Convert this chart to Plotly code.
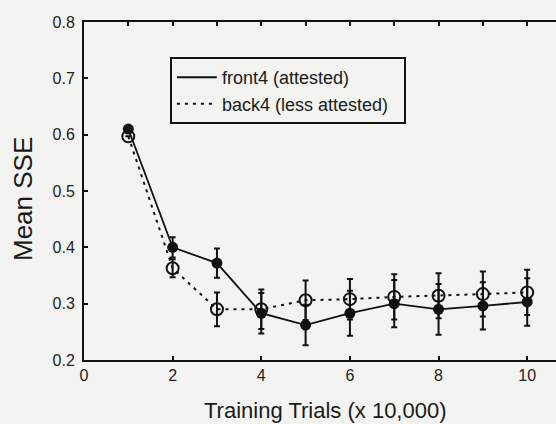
import plotly.graph_objects as go

trials = [1, 2, 3, 4, 5, 6, 7, 8, 9, 10]
front4 = [0.610, 0.400, 0.372, 0.283, 0.262, 0.283, 0.300, 0.290, 0.296, 0.303]
front4_err = [0.0, 0.018, 0.026, 0.036, 0.036, 0.040, 0.042, 0.045, 0.042, 0.042]
back4 = [0.597, 0.363, 0.290, 0.290, 0.306, 0.308, 0.312, 0.314, 0.317, 0.320]
back4_err = [0.0, 0.016, 0.030, 0.035, 0.035, 0.036, 0.040, 0.040, 0.040, 0.040]
legend_names = ["front4 (attested)", "back4 (less attested)"]
x_ticks = [0, 2, 4, 6, 8, 10]
y_ticks = [0.2, 0.3, 0.4, 0.5, 0.6, 0.7, 0.8]

bg = "#f3f3f1"
ink = "#111111"
font = "Liberation Sans, Arial, sans-serif"

fig = go.Figure()

# data traces
fig.add_trace(go.Scatter(
    x=trials, y=back4, mode="lines+markers", showlegend=False,
    line=dict(color=ink, width=2, dash="3px,5px"),
    marker=dict(symbol="circle-open", size=12, color=ink, line=dict(width=2, color=ink)),
    error_y=dict(type="data", array=back4_err, color=ink, thickness=2, width=3),
))
fig.add_trace(go.Scatter(
    x=trials, y=front4, mode="lines+markers", showlegend=False,
    line=dict(color=ink, width=1.8),
    marker=dict(symbol="circle", size=11, color=ink),
    error_y=dict(type="data", array=front4_err, color=ink, thickness=2, width=3),
))

# legend-only traces (lines only)
fig.add_trace(go.Scatter(x=[None], y=[None], mode="lines", name=legend_names[0] + "\u00a0\u00a0",
                         line=dict(color=ink, width=2)))
fig.add_trace(go.Scatter(x=[None], y=[None], mode="lines", name=legend_names[1] + "\u00a0\u00a0",
                         line=dict(color=ink, width=2, dash="3px,5px")))

fig.update_layout(
    width=556, height=424,
    margin=dict(l=84, r=0, t=22, b=64),
    paper_bgcolor=bg, plot_bgcolor=bg,
    font=dict(family=font, color="#222222", size=16),
    showlegend=True,
    legend=dict(
        x=0.182, y=0.896, xanchor="left", yanchor="top",
        bgcolor=bg, bordercolor=ink, borderwidth=2,
        font=dict(size=18, color="#1a1a1a", family=font),
        tracegroupgap=0, itemwidth=40,
    ),
    xaxis=dict(
        range=[0, 10.65], tickvals=x_ticks, ticktext=[str(v) for v in x_ticks],
        ticks="inside", ticklen=4, tickwidth=1.5, tickcolor=ink,
        showline=True, linecolor=ink, linewidth=2, mirror=False,
        showgrid=False, zeroline=False,
        tickfont=dict(size=16, color="#222222"),
    ),
    xaxis2=dict(
        range=[0, 10.65], overlaying="x", side="top", tickmode="linear", tick0=0, dtick=1,
        ticks="inside", ticklen=4, tickwidth=1.5, tickcolor=ink,
        showticklabels=False, showline=True, linecolor=ink, linewidth=2,
        showgrid=False, zeroline=False,
    ),
    yaxis=dict(
        range=[0.2, 0.8], tickvals=y_ticks, ticktext=[f"{v:.1f}" for v in y_ticks],
        ticks="inside", ticklen=4, tickwidth=1.5, tickcolor=ink,
        showline=True, linecolor=ink, linewidth=2, mirror=False,
        showgrid=False, zeroline=False,
        tickfont=dict(size=16, color="#222222"),
        ticklabelstandoff=4,
    ),
    annotations=[
        dict(text="Training Trials (x 10,000)", xref="paper", yref="paper",
             x=(325 - 84) / 472, y=(360 - 410) / 338, xanchor="center", yanchor="middle",
             showarrow=False, font=dict(size=22, color="#1a1a1a", family=font)),
        dict(text="Mean SSE", xref="paper", yref="paper",
             x=(23 - 84) / 472, y=(360 - 199) / 338, xanchor="center", yanchor="middle",
             textangle=-90, showarrow=False, font=dict(size=26, color="#1a1a1a", family=font)),
    ],
)

# dummy trace to activate top axis
fig.add_trace(go.Scatter(x=[None], y=[None], xaxis="x2", showlegend=False, hoverinfo="skip"))

fig.write_html(
    "out.html",
    config={"displayModeBar": False},
    post_script="document.body.style.margin='0';document.body.style.background='#f3f3f1';",
)
